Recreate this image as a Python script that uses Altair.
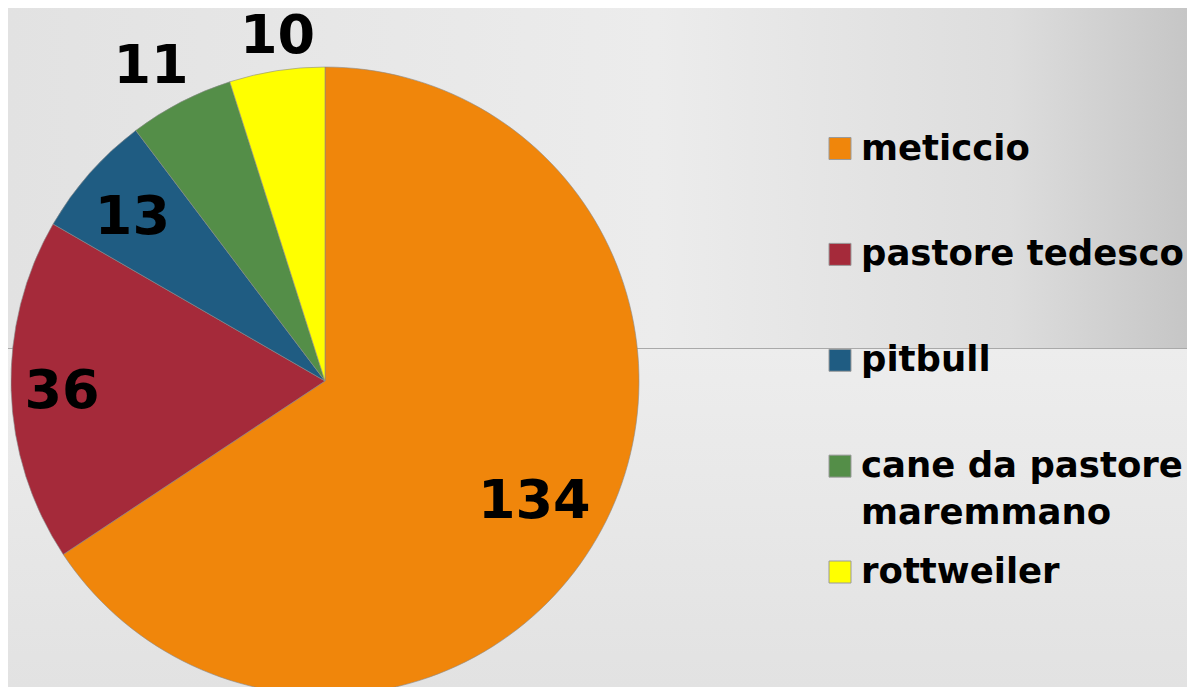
import altair as alt
import pandas as pd

razze = ["meticcio", "pastore tedesco", "pitbull", "cane da pastore maremmano", "rottweiler"]
valori = [134, 36, 13, 11, 10]
colori = ["#F0860B", "#A52A3A", "#1F5C82", "#548E48", "#FFFF00"]

df = pd.DataFrame({"razza": razze, "valore": valori, "ordine": list(range(len(razze)))})

W, H = 1179, 679
CX, CY, R = 317, 373, 314

color_scale = alt.Scale(domain=razze, range=colori)
theta = alt.Theta("valore:Q", stack=True)
order = alt.Order("ordine:Q", sort="ascending")

one = alt.Data(values=[{}])

bg_top = alt.Chart(one).mark_rect(
    color=alt.LinearGradient(
        gradient="linear",
        stops=[
            alt.GradientStop(offset=0, color="#e2e2e2"),
            alt.GradientStop(offset=0.55, color="#ececec"),
            alt.GradientStop(offset=0.85, color="#dddddd"),
            alt.GradientStop(offset=1, color="#c6c6c6"),
        ],
        x1=0, x2=1, y1=0, y2=0,
    )
).encode(x=alt.value(0), x2=alt.value(W), y=alt.value(0), y2=alt.value(340.5))

bg_bot = alt.Chart(one).mark_rect(
    color=alt.LinearGradient(
        gradient="linear",
        stops=[
            alt.GradientStop(offset=0, color="#ededed"),
            alt.GradientStop(offset=1, color="#e2e2e2"),
        ],
        x1=0, x2=0, y1=0, y2=1,
    )
).encode(x=alt.value(0), x2=alt.value(W), y=alt.value(340.5), y2=alt.value(H))

sep = alt.Chart(one).mark_rule(color="#a9a9a9", strokeWidth=1).encode(
    x=alt.value(0), x2=alt.value(W), y=alt.value(340.5)
)

base = alt.Chart(df)

pie = base.mark_arc(radius=R, stroke="#8a8a8a", strokeWidth=0.6).encode(
    theta=theta,
    order=order,
    color=alt.Color("razza:N", scale=color_scale, legend=None),
    x=alt.value(CX),
    y=alt.value(CY),
)

# label placement style: (radius, dx, dy)
label_style = {
    "meticcio": (241, -3, 7),
    "pastore tedesco": (263, 0, 3),
    "pitbull": (253, -3, 5),
    "cane da pastore maremmano": (359, -9, 5),
    "rottweiler": (349, 6, 1),
}

labels = []
for name in razze:
    r, dx, dy = label_style[name]
    labels.append(
        base.mark_text(
            radius=r, dx=dx, dy=dy, font="DejaVu Sans", fontWeight="bold",
            fontSize=54, color="black", align="center", baseline="middle",
        ).encode(
            theta=theta,
            order=order,
            text=alt.Text("valore:Q"),
            x=alt.value(CX),
            y=alt.value(CY),
            opacity=alt.condition(alt.datum.razza == name, alt.value(1), alt.value(0)),
        )
    )

ysc = alt.Scale(domain=razze, range=[140.5, 564], padding=0)

leg_sq = base.mark_square(size=484, stroke="#9a9a9a", strokeWidth=1, opacity=1).encode(
    x=alt.value(832),
    y=alt.Y("razza:N", sort=razze, scale=ysc, axis=None),
    color=alt.Color("razza:N", scale=color_scale, legend=None),
)

leg_txt = base.transform_calculate(
    etichetta="replace(datum.razza, 'pastore maremmano', 'pastore\\nmaremmano')"
).mark_text(
    font="DejaVu Sans", fontWeight="bold", fontSize=35.5, color="black",
    align="left", baseline="alphabetic", dy=11, lineBreak="\n", lineHeight=47,
).encode(
    x=alt.value(853),
    y=alt.Y("razza:N", sort=razze, scale=ysc, axis=None),
    text="etichetta:N",
)

chart = alt.layer(bg_top, bg_bot, sep, pie, *labels, leg_sq, leg_txt).properties(
    width=W, height=H, autosize=alt.AutoSizeParams(type="none"), padding=0,
).configure_view(stroke=None).configure(background="#e6e6e6")

chart.save("out.html", embed_options={"renderer": "svg", "actions": False})
